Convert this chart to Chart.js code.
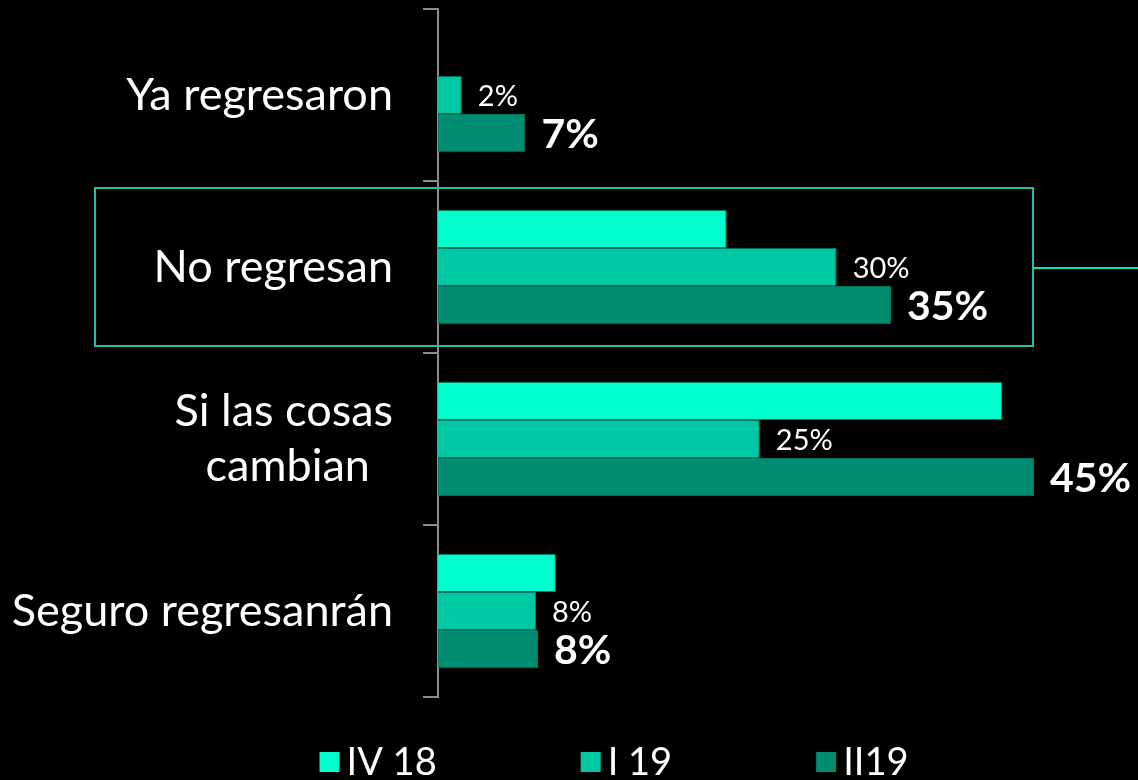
<!DOCTYPE html>
<html>
<head>
<meta charset="utf-8">
<script src="https://cdn.jsdelivr.net/npm/chart.js@4/dist/chart.umd.min.js"></script>
<style>
  html, body { margin: 0; padding: 0; background: #000; }
  #wrap { width: 1138px; height: 780px; position: relative; }
</style>
</head>
<body>
<div id="wrap"><canvas id="grafica"></canvas></div>
<script>
const categorias = ["Ya regresaron", "No regresan", ["Si las cosas", "cambian  "], "Seguro regresanrán"];
const series = ["IV 18", "I 19", "II19"];
const valoresIV18 = [null, 21.8, 42.6, 8.9];
const valoresI19 = [1.8, 30.1, 24.3, 7.4];
const valoresII19 = [6.6, 34.2, 45, 7.55];
const etiquetasI19 = ["2%", "30%", "25%", "8%"];
const etiquetasII19 = ["7%", "35%", "45%", "8%"];
const colores = ["#00ffcc", "#00c8a5", "#008c70"];

const fuente = "Lato, 'Open Sans', sans-serif";

// etiquetas de valor al final de las barras
const etiquetasPlugin = {
    id: "etiquetas",
    afterDatasetsDraw(chart) {
        const ctx = chart.ctx;
        ctx.save();
        ctx.fillStyle = "#ffffff";
        ctx.textBaseline = "middle";
        ctx.textAlign = "left";
        [[1, etiquetasI19, "29px " + fuente], [2, etiquetasII19, "bold 41px " + fuente]].forEach(([i, textos, font]) => {
            ctx.font = font;
            chart.getDatasetMeta(i).data.forEach((barra, j) => {
                ctx.fillText(textos[j], barra.x + 16, barra.y + 2);
            });
        });
        ctx.restore();
    }
};

// recuadro que resalta "No regresan"
const recuadroPlugin = {
    id: "recuadro",
    afterDraw(chart) {
        const ctx = chart.ctx;
        const y = chart.scales.y;
        const x = chart.scales.x;
        const centro = y.getPixelForValue(1);
        const mitad = (y.getPixelForValue(1) - y.getPixelForValue(0)) / 2 - 7;
        const izq = chart.chartArea.left - 343;
        const der = x.getPixelForValue(45) - 1;
        ctx.save();
        ctx.strokeStyle = "#1fbfa5";
        ctx.lineWidth = 2;
        ctx.strokeRect(izq, centro - mitad, der - izq, mitad * 2);
        ctx.strokeStyle = "#00e6b8";
        ctx.beginPath();
        ctx.moveTo(der, centro + 1);
        ctx.lineTo(chart.width, centro + 1);
        ctx.stroke();
        ctx.restore();
    }
};

// leyenda dibujada a mano (la de Chart.js usa el mismo padding en vertical)
const leyendaPlugin = {
    id: "leyenda",
    afterDraw(chart) {
        const ctx = chart.ctx;
        ctx.save();
        ctx.font = "38px " + fuente;
        ctx.textBaseline = "middle";
        const caja = 20, sep = 7, hueco = 144;
        const anchos = series.map(s => ctx.measureText(s).width);
        const total = anchos.reduce((a, w) => a + caja + sep + w, 0) + hueco * (series.length - 1);
        let xi = 614 - total / 2;
        const yc = chart.height - 18;
        series.forEach((s, i) => {
            ctx.fillStyle = colores[i];
            ctx.fillRect(xi, yc - caja / 2, caja, caja);
            ctx.fillStyle = "#ffffff";
            ctx.fillText(s, xi + caja + sep, yc + 1);
            xi += caja + sep + anchos[i] + hueco;
        });
        ctx.restore();
    }
};

const ctx = document.getElementById("grafica").getContext("2d");
new Chart(ctx, {
    type: "bar",
    data: {
        labels: categorias,
        datasets: [valoresIV18, valoresI19, valoresII19].map((d, i) => ({
            label: series[i],
            data: d,
            backgroundColor: colores[i],
            borderColor: "#007560",
            borderWidth: 1,
            barPercentage: 1,
            categoryPercentage: 0.665
        }))
    },
    options: {
        indexAxis: "y",
        responsive: true,
        maintainAspectRatio: false,
        animation: false,
        layout: { padding: { top: 9, bottom: 83, left: 0, right: 0 } },
        plugins: {
            legend: { display: false },
            tooltip: { enabled: false }
        },
        scales: {
            x: {
                display: false,
                min: 0,
                max: 52.85
            },
            y: {
                grid: {
                    drawOnChartArea: false,
                    drawTicks: true,
                    tickLength: 15,
                    color: "#8c8c8c",
                    lineWidth: 2,
                    offset: true
                },
                border: { display: true, color: "#8c8c8c", width: 2 },
                ticks: {
                    color: "#ffffff",
                    padding: 30,
                    font: { family: fuente, size: 45, lineHeight: 1.22 }
                },
                afterFit: scale => {
                    scale.width = 438;
                    scale.paddingTop = 0;
                    scale.paddingBottom = 0;
                }
            }
        }
    },
    plugins: [etiquetasPlugin, recuadroPlugin, leyendaPlugin]
});
</script>
</body>
</html>
